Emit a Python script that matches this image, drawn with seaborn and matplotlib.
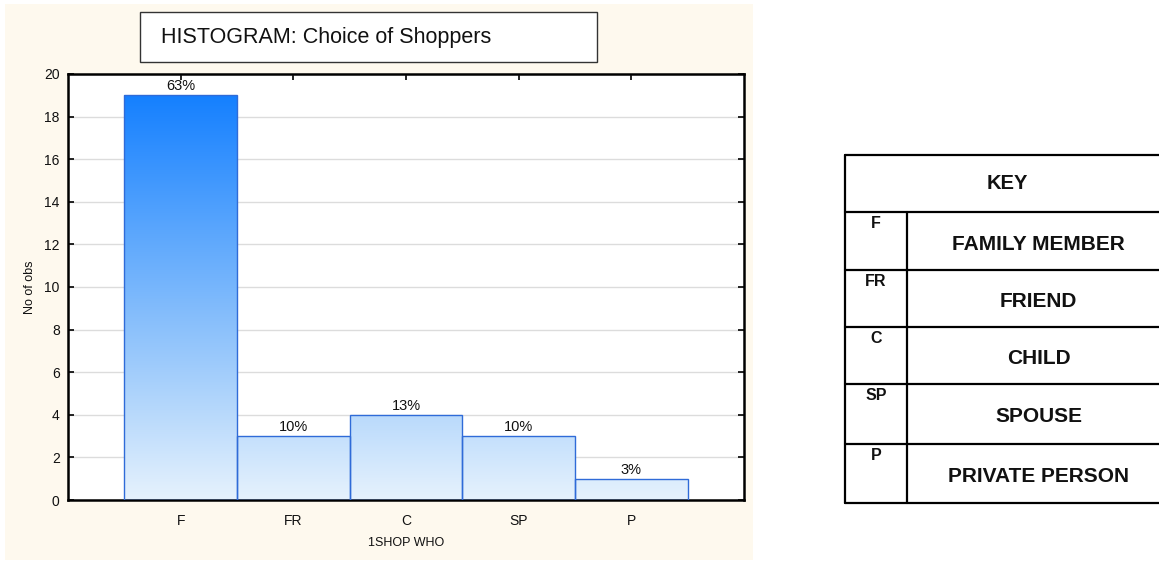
import numpy as np
import pandas as pd
import matplotlib
matplotlib.use("Agg")
import matplotlib.pyplot as plt
from matplotlib.patches import Rectangle
from matplotlib.colors import LinearSegmentedColormap
import seaborn as sns

# Who does the shopping: counts of observations per category
categories = ["F", "FR", "C", "SP", "P"]
counts = [19, 3, 4, 3, 1]

# Key table entries
key_codes = ["F", "FR", "C", "SP", "P"]
key_names = ["FAMILY MEMBER", "FRIEND", "CHILD", "SPOUSE", "PRIVATE PERSON"]

y_ticks = list(range(0, 21, 2))

sns.set_theme(style="white")
plt.rcParams["font.family"] = ["Liberation Sans", "DejaVu Sans"]

W, H = 1159, 561
fig = plt.figure(figsize=(W / 100, H / 100), dpi=100)
fig.patch.set_facecolor("white")


def fx(px):
    return px / W


def fy(py):
    return 1 - py / H


# Cream panel behind the histogram
fig.add_artist(Rectangle((fx(5), fy(560)), fx(753) - fx(5), fy(4) - fy(560),
                         transform=fig.transFigure, facecolor="#FEF9EE",
                         edgecolor="none", zorder=0))

ax = fig.add_axes([fx(68), fy(500), fx(744) - fx(68), fy(74) - fy(500)])
ax.set_facecolor("white")

df = pd.DataFrame({"who": categories, "n": counts})
sns.barplot(data=df, x="who", y="n", ax=ax, width=1.0, color="#7DB9FE",
            edgecolor="#2F6BD8", linewidth=1.0, zorder=3)

ax.set_xlim(-1, 5)
ax.set_ylim(0, 20)

# Vertical blue gradient filling each bar
cmap = LinearSegmentedColormap.from_list("shop", ["#E6F2FD", "#9ECBFB", "#5AA6FD", "#1580FF"])
grad = np.linspace(0, 1, 256).reshape(-1, 1)
top = max(counts)
for bar in ax.patches:
    img = ax.imshow(grad, cmap=cmap, origin="lower", aspect="auto",
                    extent=(-1, 5, 0, top), zorder=2, interpolation="bicubic")
    img.set_clip_path(bar)
    bar.set_facecolor("none")
ax.set_xlim(-1, 5)
ax.set_ylim(0, 20)

# Percentage labels above bars
total = sum(counts)
for i, c in enumerate(counts):
    pct = int(round(100 * c / total))
    ax.annotate(f"{pct}%", (i, c), xytext=(0, 1.5), textcoords="offset points",
                ha="center", va="bottom", fontsize=10.5, color="#111111", zorder=5)

ax.set_yticks(y_ticks)
ax.yaxis.grid(True, color="#DCDCDC", linewidth=1.0, zorder=0)
ax.xaxis.grid(False)
ax.set_axisbelow(True)
ax.tick_params(axis="both", direction="in", length=4, width=1.2, color="black",
               labelsize=10, labelcolor="#111111", top=True, right=True,
               bottom=True, left=True, pad=6)
ax.tick_params(axis="x", pad=10)
for s in ax.spines.values():
    s.set_visible(True)
    s.set_color("black")
    s.set_linewidth(1.8)

ax.set_xlabel("")
ax.set_ylabel("")
fig.text(fx(406), fy(543), "1SHOP WHO", ha="center", va="center", fontsize=9, color="#111111")
fig.text(fx(30), fy(287), "No of obs", ha="center", va="center", rotation=90,
         fontsize=9, color="#111111")

# Title box
fig.add_artist(Rectangle((fx(140), fy(62)), fx(597) - fx(140), fy(12) - fy(62),
                         transform=fig.transFigure, facecolor="white",
                         edgecolor="#333333", linewidth=1.0, zorder=5))
fig.text(fx(161), fy(37), "HISTOGRAM: Choice of Shoppers", ha="left", va="center",
         fontsize=15.5, color="#111111", zorder=6)

# Key table
tl, tdiv, tr = 845, 907, 1170
rows = [155, 212, 270, 327, 384, 444, 503]
lw = 1.6
line_kw = dict(transform=fig.transFigure, color="black", linewidth=lw, zorder=6)
for r in rows:
    fig.add_artist(plt.Line2D([fx(tl), fx(tr)], [fy(r), fy(r)], **line_kw))
fig.add_artist(plt.Line2D([fx(tl), fx(tl)], [fy(rows[0]), fy(rows[-1])], **line_kw))
fig.add_artist(plt.Line2D([fx(tdiv), fx(tdiv)], [fy(rows[1]), fy(rows[-1])], **line_kw))

fig.text(fx((tl + tr) / 2), fy((rows[0] + rows[1]) / 2), "KEY", ha="center", va="center",
         fontsize=14.5, fontweight="bold", color="#111111")
for k, (code, name) in enumerate(zip(key_codes, key_names)):
    r0, r1 = rows[k + 1], rows[k + 2]
    fig.text(fx((tl + tdiv) / 2), fy(r0 + 4), code, ha="center", va="top",
             fontsize=11.5, fontweight="bold", color="#111111")
    fig.text(fx((tdiv + tr) / 2), fy((r0 + r1) / 2 + 3), name, ha="center", va="center",
             fontsize=15, fontweight="bold", color="#111111")

fig.savefig("out.png", dpi=100, facecolor=fig.get_facecolor())
